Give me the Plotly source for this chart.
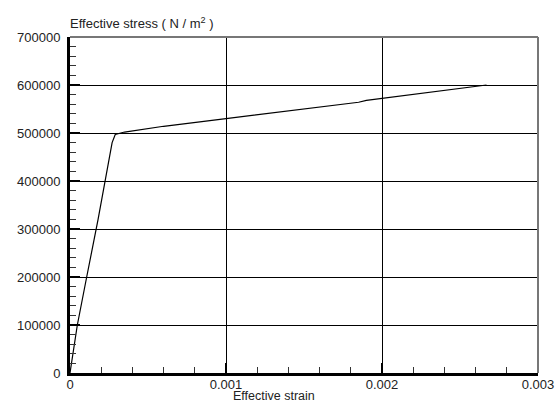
import plotly.graph_objects as go

# Data
strain = [0.0, 0.000047, 0.000107, 0.00018, 0.00027, 0.00029, 0.00035, 0.0006,
          0.0010, 0.0014, 0.00185, 0.0019, 0.0020, 0.00224, 0.00267]
stress = [0, 100000, 200000, 320000, 480000, 497000, 502000, 514000,
          530000, 546000, 564000, 568000, 572000, 583000, 600000]

x_title = "Effective strain"
y_title = "Effective stress ( N / m<sup>2</sup> )"

FONT = "Liberation Sans, Arial, sans-serif"

fig = go.Figure()
fig.add_trace(go.Scatter(x=strain, y=stress, mode="lines",
                         line=dict(color="black", width=1.2),
                         showlegend=False, hoverinfo="skip"))

axis_common = dict(
    showline=True, linecolor="black", linewidth=3,
    showgrid=True, gridcolor="black", gridwidth=1,
    zeroline=False, automargin=False,
    ticks="inside", ticklen=10, tickwidth=2, tickcolor="black",
    tickfont=dict(family=FONT, size=13, color="#222222"),
)

fig.update_xaxes(range=[0, 0.003], dtick=0.001, tick0=0,
                 minor=dict(ticks="inside", ticklen=6, tickwidth=1,
                            tickcolor="#333333", dtick=0.0002, showgrid=False),
                 ticklabelstandoff=-3,
                 **axis_common)
fig.update_yaxes(range=[0, 700000], dtick=100000, tick0=0, tickformat="d",
                 minor=dict(ticks="inside", ticklen=6, tickwidth=1,
                            tickcolor="#333333", dtick=20000, showgrid=False),
                 ticklabelstandoff=4,
                 **axis_common)

# Top and right borders (gray)
fig.add_shape(type="line", xref="paper", yref="paper", x0=0, x1=1, y0=1, y1=1,
              line=dict(color="#777777", width=2))
fig.add_shape(type="line", xref="paper", yref="paper", x0=1, x1=1, y0=0, y1=1,
              line=dict(color="#777777", width=2))

fig.add_annotation(text=y_title, xref="paper", yref="paper", x=-0.005, y=1.0,
                   xanchor="left", yanchor="bottom", yshift=4, showarrow=False,
                   font=dict(family=FONT, size=13, color="#222222"))
fig.add_annotation(text=x_title, xref="x", yref="paper", x=0.00131, y=0,
                   xanchor="center", yanchor="top", yshift=-15, showarrow=False,
                   borderpad=0,
                   font=dict(family=FONT, size=12.5, color="#222222"))

fig.update_layout(
    width=555, height=403,
    margin=dict(l=70, r=17, t=37, b=30),
    paper_bgcolor="white", plot_bgcolor="white",
)

fig.write_html("out.html")
